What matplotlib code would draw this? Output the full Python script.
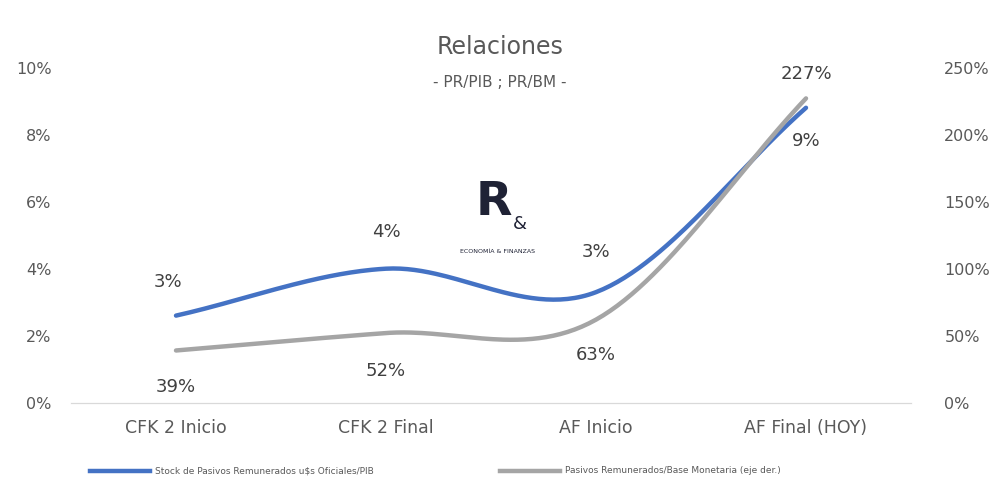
import matplotlib.pyplot as plt
import numpy as np

categorias = ['CFK 2 Inicio', 'CFK 2 Final', 'AF Inicio', 'AF Final (HOY)']
pr_pib = [2.6, 4.0, 3.3, 8.8]          # % eje izq.
pr_bm = [39, 52, 62, 227]              # % eje der.
etq_pib = ['3%', '4%', '3%', '9%']
etq_bm = ['39%', '52%', '63%', '227%']

def suavizar(y, n=60):
    # curva tipo Catmull-Rom como el "suavizado" de Excel
    y = np.asarray(y, float)
    p = np.concatenate([[2 * y[0] - y[1]], y, [2 * y[-1] - y[-2]]])
    xs, ys = [], []
    for i in range(len(y) - 1):
        t = np.linspace(0, 1, n)
        p0, p1, p2, p3 = p[i], p[i + 1], p[i + 2], p[i + 3]
        m1 = (p2 - p0) / 2
        m2 = (p3 - p1) / 2
        h = (2*t**3 - 3*t**2 + 1)*p1 + (t**3 - 2*t**2 + t)*m1 + (-2*t**3 + 3*t**2)*p2 + (t**3 - t**2)*m2
        xs.append(i + t)
        ys.append(h)
    return np.concatenate(xs), np.concatenate(ys)

fig = plt.figure(figsize=(10, 4.93), dpi=100)
ax = fig.add_axes([0.071, 0.183, 0.84, 0.68])
ax2 = ax.twinx()

x, y = suavizar(pr_pib)
ax.plot(x, y, color='#4472c4', lw=3.2, solid_capstyle='round', zorder=3)
x2, y2 = suavizar(pr_bm)
ax2.plot(x2, y2, color='#a5a5a5', lw=3.2, solid_capstyle='round', zorder=2)

ax.set_xlim(-0.5, 3.5)
ax.set_ylim(0, 10)
ax2.set_ylim(0, 250)
ax.set_yticks(range(0, 11, 2))
ax.set_yticklabels([f'{v}%' for v in range(0, 11, 2)])
ax2.set_yticks(range(0, 251, 50))
ax2.set_yticklabels([f'{v}%' for v in range(0, 251, 50)])
ax.set_xticks(range(4))
ax.set_xticklabels(categorias)

for a in (ax, ax2):
    for s in ('top', 'left', 'right'):
        a.spines[s].set_visible(False)
    a.spines['bottom'].set_color('#d9d9d9')
    a.tick_params(length=0, labelsize=11.5, colors='#595959')
ax.tick_params(axis='x', pad=12, labelsize=12.5)
ax.tick_params(axis='y', pad=14)
ax2.tick_params(axis='y', pad=24)

offs_pib = [1.0, 1.1, 1.2, -1.0]
for i, t in enumerate(etq_pib):
    ax.text(i - 0.04 if i == 0 else i, pr_pib[i] + offs_pib[i], t, ha='center', va='center', fontsize=13, color='#404040')
pos_bm = [12, 24, 36, 245]
for i, t in enumerate(etq_bm):
    ax2.text(i, pos_bm[i], t, ha='center', va='center', fontsize=13, color='#404040')

fig.text(0.5, 0.905, 'Relaciones', ha='center', va='center', fontsize=17, color='#595959')
fig.text(0.5, 0.832, '- PR/PIB ; PR/BM -', ha='center', va='center', fontsize=11, color='#595959')

# logo
fig.text(0.494, 0.59, 'R', ha='center', va='center', fontsize=34, fontweight='bold', color='#1f2235')
fig.text(0.52, 0.545, '&', ha='center', va='center', fontsize=13, color='#1f2235')
fig.text(0.497, 0.49, 'ECONOMÍA & FINANZAS', ha='center', va='center', fontsize=4.5, color='#1f2235')

# leyenda
fig.add_artist(plt.Line2D([0.09, 0.15], [0.045, 0.045], color='#4472c4', lw=3.2))
fig.text(0.155, 0.045, 'Stock de Pasivos Remunerados u$s Oficiales/PIB', va='center', fontsize=6.5, color='#595959')
fig.add_artist(plt.Line2D([0.50, 0.56], [0.045, 0.045], color='#a5a5a5', lw=3.2))
fig.text(0.565, 0.045, 'Pasivos Remunerados/Base Monetaria (eje der.)', va='center', fontsize=6.5, color='#595959')

plt.savefig('out.png', dpi=100)
